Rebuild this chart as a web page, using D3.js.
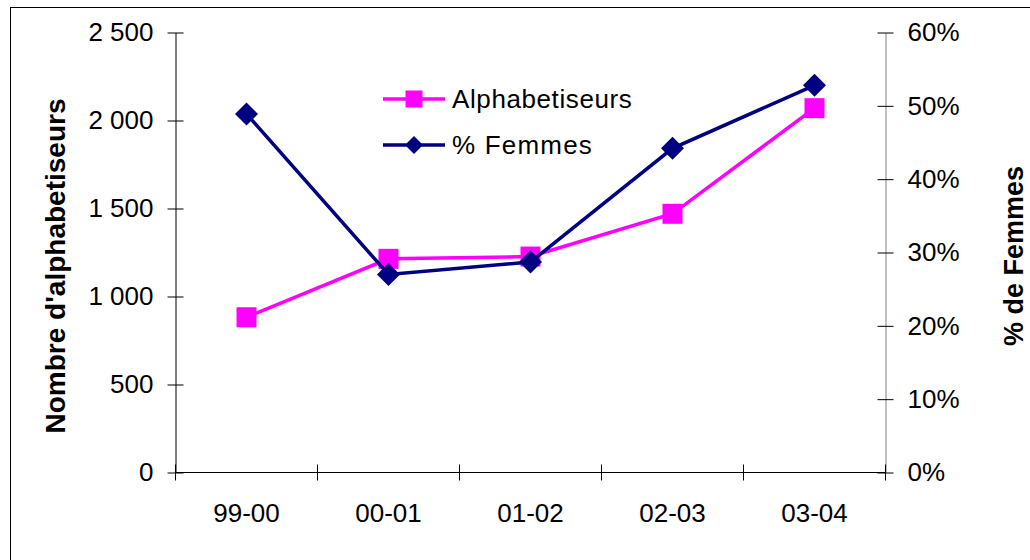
<!DOCTYPE html>
<html><head><meta charset="utf-8">
<script src="https://cdn.jsdelivr.net/npm/d3@7"></script>
<style>
html,body{margin:0;padding:0;background:#fff;}
svg{display:block;font-family:"Liberation Sans",Arial,sans-serif;}
</style></head>
<body><svg id="c" width="1030" height="560"></svg>
<script>
const categories = ["99-00","00-01","01-02","02-03","03-04"];
const alphabetiseurs = [882, 1214, 1227, 1470, 2070];
const pctFemmes = [0.489, 0.270, 0.287, 0.442, 0.528];
const leftTicks = [0, 500, 1000, 1500, 2000, 2500];
const rightTicks = [0, 0.1, 0.2, 0.3, 0.4, 0.5, 0.6];
const seriesNames = ["Alphabetiseurs", "% Femmes"];
const leftTitle = "Nombre d'alphabetiseurs";
const rightTitle = "% de Femmes";

const svg = d3.select("#c");
const pink = "#FF00FF", navy = "#000080";

svg.append("rect").attr("x",10.5).attr("y",7.5).attr("width",1030).attr("height",560)
  .attr("fill","none").attr("stroke","#000").attr("stroke-width",1);

const x = d3.scaleBand().domain(categories).range([175.5, 885.5]).padding(0);
const yL = d3.scaleLinear().domain([0,2500]).range([472.5,32.5]);
const yR = d3.scaleLinear().domain([0,0.6]).range([472.5,32.5]);
const cx = d => x(d) + x.bandwidth()/2;

const fr = d3.formatLocale({decimal:",", thousands:" ", grouping:[3], currency:["",""]});
const fmtL = fr.format(",");
const fmtR = d3.format(".0%");

function styleAxis(g, lineColor){
  g.select(".domain").attr("stroke", lineColor).attr("stroke-width",1);
  g.selectAll(".tick line").attr("stroke","#000");
  g.selectAll(".tick text").attr("font-size","26px").attr("fill","#000")
    .attr("font-family","'Liberation Sans',Arial,sans-serif");
}

// Left axis
const gL = svg.append("g").attr("transform","translate(175.5,0)")
  .call(d3.axisLeft(yL).tickValues(leftTicks).tickFormat(fmtL).tickSizeInner(8).tickSizeOuter(0).tickPadding(14));
styleAxis(gL, "#000");
gL.selectAll(".tick line").attr("x1", 8).attr("x2", -8);

// Right axis
const gR = svg.append("g").attr("transform","translate(885.5,0)")
  .call(d3.axisRight(yR).tickValues(rightTicks).tickFormat(fmtR).tickSizeInner(8).tickSizeOuter(0).tickPadding(14));
styleAxis(gR, "#808080");
gR.selectAll(".tick line").attr("x1", -8).attr("x2", 8);

// Bottom axis (ticks at band boundaries)
const boundaries = categories.map(c => x(c)).concat([x(categories[categories.length-1]) + x.bandwidth()]);
const gB = svg.append("g").attr("transform","translate(0,472.5)");
gB.append("line").attr("x1", x.range()[0]).attr("x2", x.range()[1]).attr("stroke","#000");
gB.selectAll("line.tk").data(boundaries).join("line").attr("class","tk")
  .attr("x1", d=>d).attr("x2", d=>d).attr("y1",-8).attr("y2",8).attr("stroke","#000");
gB.selectAll("text").data(categories).join("text")
  .attr("x", d=>cx(d)).attr("y", 49).attr("text-anchor","middle")
  .attr("font-size","26px").text(d=>d);

// Axis titles
svg.append("text").attr("transform","translate(65,266) rotate(-90)")
  .attr("text-anchor","middle").attr("font-weight","bold").attr("font-size","28px").text(leftTitle);
svg.append("text").attr("transform","translate(1023,256) rotate(-90)")
  .attr("text-anchor","middle").attr("font-weight","bold").attr("font-size","27px").text(rightTitle);

// Lines
const lineL = d3.line().x((d,i)=>cx(categories[i])).y(d=>yL(d));
const lineR = d3.line().x((d,i)=>cx(categories[i])).y(d=>yR(d));

svg.append("path").datum(alphabetiseurs).attr("d", lineL)
  .attr("fill","none").attr("stroke",pink).attr("stroke-width",3.5);
svg.selectAll("rect.sq").data(alphabetiseurs).join("rect").attr("class","sq")
  .attr("x",(d,i)=>cx(categories[i])-10).attr("y",d=>yL(d)-10)
  .attr("width",20).attr("height",20).attr("fill",pink);

svg.append("path").datum(pctFemmes).attr("d", lineR)
  .attr("fill","none").attr("stroke",navy).attr("stroke-width",3.5);
const diamond = s => `M0,${-s}L${s},0L0,${s}L${-s},0Z`;
svg.selectAll("path.dm").data(pctFemmes).join("path").attr("class","dm")
  .attr("transform",(d,i)=>`translate(${cx(categories[i])},${yR(d)})`)
  .attr("d", diamond(11.5)).attr("fill",navy);

// Legend
const lg = svg.append("g");
const legY = [99, 145];
const legColors = [pink, navy];
seriesNames.forEach((name,i)=>{
  lg.append("line").attr("x1",383).attr("x2",445).attr("y1",legY[i]).attr("y2",legY[i])
    .attr("stroke",legColors[i]).attr("stroke-width",3.5);
  if(i===0){
    lg.append("rect").attr("x",414-8.5).attr("y",legY[i]-8.5).attr("width",17).attr("height",17).attr("fill",pink);
  } else {
    lg.append("path").attr("transform",`translate(414,${legY[i]})`).attr("d",diamond(9)).attr("fill",navy);
  }
  lg.append("text").attr("x",452).attr("y",legY[i]+8.5).attr("font-size","26px")
    .attr("letter-spacing", i===1 ? "1.2px" : "0.6px").text(name);
});
</script></body></html>
